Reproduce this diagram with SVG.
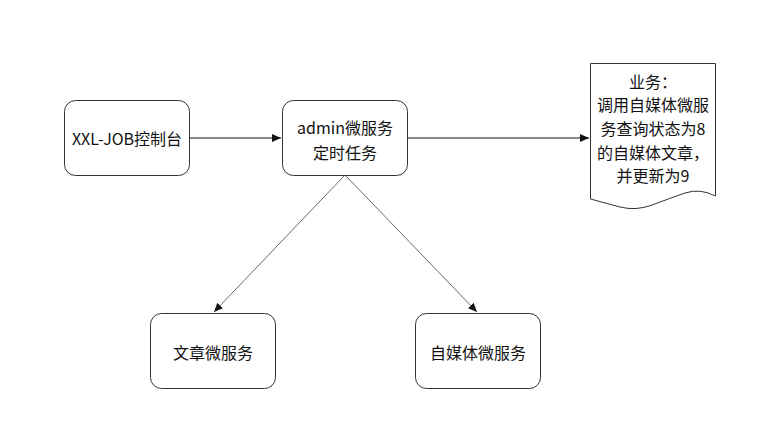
<svg xmlns="http://www.w3.org/2000/svg" width="776" height="432" viewBox="0 0 776 432">
<style>
.box{fill:#fff;stroke:#333;stroke-width:1}
.t{font-family:"Noto Sans CJK SC","Liberation Sans",sans-serif;font-size:16px;fill:#111;text-anchor:middle;dominant-baseline:central}
.c{stroke:#111;stroke-width:1;fill:none}
.d{stroke:#444;stroke-width:0.8;fill:none}
</style>
<defs>
<marker id="ah" markerWidth="10" markerHeight="10" refX="9" refY="5" orient="auto" markerUnits="userSpaceOnUse">
<path d="M0,1 L9,5 L0,9 Z" fill="#111"/>
</marker>
</defs>
<rect width="776" height="432" fill="#fff"/>
<g id="connectors">
<line class="c" x1="189" y1="138" x2="281" y2="138" marker-end="url(#ah)"/>
<line class="c" x1="407" y1="138" x2="589" y2="138" marker-end="url(#ah)"/>
<line class="d" x1="345" y1="175" x2="214" y2="312" marker-end="url(#ah)"/>
<line class="d" x1="345" y1="175" x2="477" y2="312" marker-end="url(#ah)"/>
</g>
<g id="xxljob">
<rect class="box" x="64.5" y="100.5" width="125" height="75" rx="11"/>
<text class="t" x="127" y="138">XXL-JOB控制台</text>
</g>
<g id="admin">
<rect class="box" x="282.5" y="100.5" width="125" height="75" rx="11"/>
<text class="t" x="345" y="127">admin微服务</text>
<text class="t" x="345" y="152">定时任务</text>
</g>
<g id="business">
<path class="box" d="M590.5,63.5 H715.5 V196 Q700,188 685,193 Q668,199 652,205 Q636,211 620,207 Q605,203 590.5,199 Z"/>
<text class="t" x="653" y="81">业务：</text>
<text class="t" x="653" y="104">调用自媒体微服</text>
<text class="t" x="653" y="128">务查询状态为8</text>
<text class="t" x="653" y="152">的自媒体文章，</text>
<text class="t" x="653" y="175">并更新为9</text>
</g>
<g id="article">
<rect class="box" x="150.5" y="313.5" width="125" height="75" rx="11"/>
<text class="t" x="213" y="352">文章微服务</text>
</g>
<g id="wemedia">
<rect class="box" x="415.5" y="313.5" width="125" height="75" rx="11"/>
<text class="t" x="478" y="352">自媒体微服务</text>
</g>
</svg>
